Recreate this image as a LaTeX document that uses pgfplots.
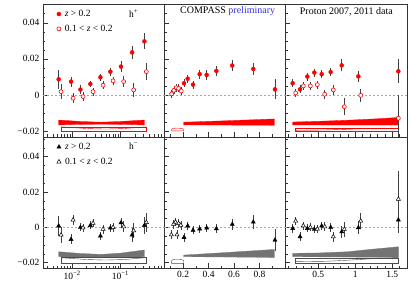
\documentclass[border=0pt]{standalone}
\usepackage{fontspec}
\setmainfont{Liberation Serif}
\setmathrm{Liberation Serif}
\usepackage{pgfplots}
\pgfplotsset{compat=1.18}
\definecolor{myred}{RGB}{255,0,0}
\definecolor{bandgray}{RGB}{115,115,115}
\definecolor{prelblue}{RGB}{50,50,240}
\newcommand{\tlfont}{\fontsize{9.5}{11}\selectfont}
\pgfplotsset{
 panel/.style={
  anchor=south west, scale only axis, scaled ticks=false,
  axis line style={black!80, line width=0.6pt},
  ytick={-0.02,0,0.02,0.04},
  minor ytick={-0.015,-0.01,-0.005,0.005,0.01,0.015,0.025,0.03,0.035,0.045,0.05},
  major tick length=5pt, minor tick length=2.5pt,
  tick style={black!80, line width=0.5pt},
  xtick pos=bottom, ytick pos=left, tick align=inside,
  ticklabel style={font=\tlfont},
 },
 toprow/.style={ymin=-0.0233, ymax=0.0504, height=133pt, xticklabels={}},
 botrow/.style={ymin=-0.0230, ymax=0.0511, height=131pt},
 xpanel/.style={xmin=0.0025, xmax=0.8, width=121pt, xtick={0.01,0.1},
   minor xtick={0.003,0.004,0.005,0.006,0.007,0.008,0.009,0.02,0.03,0.04,0.05,0.06,0.07,0.08,0.09,0.2,0.3,0.4,0.5,0.6,0.7,0.8}},
 zpanel/.style={xmin=0.05, xmax=1.0, width=121pt, xtick={0.2,0.4,0.6,0.8}, minor xtick={0.1,0.3,0.5,0.7,0.9}, yticklabels={}},
 ppanel/.style={xmin=0.05, xmax=1.7, width=122pt, xtick={0.5,1,1.5}, minor xtick={0.1,0.2,0.3,0.4,0.6,0.7,0.8,0.9,1.1,1.2,1.3,1.4,1.6,1.7}, yticklabels={}},
 eb/.style={error bars/y dir=both, error bars/y explicit, error bars/error mark=none, error bars/error bar style={black!75, line width=0.5pt}},
 fillc/.style={only marks, mark=*, mark size=2pt, color=myred, mark options={fill=myred, draw=myred}},
 openc/.style={only marks, mark=*, mark size=2pt, color=myred, mark options={fill=white, draw=myred, line width=0.6pt}},
 fillt/.style={only marks, mark=triangle*, mark size=2.4pt, color=black, mark options={fill=black, draw=black}},
 opent/.style={only marks, mark=triangle*, mark size=2.4pt, color=black, mark options={fill=white, draw=black, line width=0.5pt}},
 zeroline/.style={black!35, dash pattern=on 2pt off 2pt, line width=0.4pt, forget plot},
 leg/.style={legend style={draw=none, fill=none, at={(0.105,0.978)}, anchor=north west, font=\tlfont, row sep=3pt, inner sep=1pt, column sep=2pt},
   legend cell align=left},
}
\begin{document}
\begin{tikzpicture}
%================ TOP LEFT (x, h+)
\begin{axis}[panel, toprow, xmode=log, xpanel, at={(43pt,160pt)}, yticklabels={−0.02,0,0.02,0.04}, leg]
\addplot[zeroline] coordinates {(0.0025,0) (0.8,0)};
\addplot[fill=myred, draw=myred, line width=0.3pt, forget plot] coordinates {
(0.00528,-0.0139) (0.015,-0.0147) (0.04,-0.0151) (0.1,-0.0147) (0.315,-0.0139)
(0.315,-0.0166) (0.1,-0.0163) (0.04,-0.0162) (0.015,-0.0163) (0.00528,-0.0166)} -- cycle;
\addplot[draw=myred, line width=0.4pt, forget plot] coordinates {
(0.00591,-0.0199) (0.345,-0.0199) (0.345,-0.0176) (0.00591,-0.0176)} -- cycle;
\addplot[draw=myred, line width=0.4pt, forget plot] coordinates {
(0.00591,-0.0177) (0.02,-0.0186) (0.05,-0.0189) (0.12,-0.0186) (0.345,-0.0177)};
\addplot[fillc, eb] table[x index=0, y index=1, y error index=2] {
0.00528 0.0087 0.0054
0.00953 0.0074 0.0028
0.0149 0.0030 0.0023
0.0239 0.0061 0.0018
0.0386 0.0098 0.0020
0.0621 0.0129 0.0023
0.103 0.0157 0.0030
0.175 0.0236 0.0035
0.315 0.0297 0.0044
};
\addlegendentry{\textit{z} \textgreater{} 0.2}
\addplot[openc, eb] table[x index=0, y index=1, y error index=2] {
0.00591 0.0018 0.0040
0.0105 -0.0018 0.0028
0.0169 -0.0009 0.0024
0.0272 0.0018 0.0022
0.0438 0.0054 0.0022
0.0706 0.0078 0.0024
0.117 0.0074 0.0030
0.188 0.0028 0.0040
0.345 0.0129 0.0048
};
\addlegendentry{0.1 \textless{} \textit{z} \textless{} 0.2}
\node[font=\tlfont] at (rel axis cs:0.75,0.925) {h\textsuperscript{+}};
\node[rotate=90, anchor=east, font=\fontsize{10.5}{12}\selectfont] at (rel axis cs:-0.215,0.955) {$\mathrm{A}_{\mathrm{UL}}^{\sin\phi_{s}}$};
\end{axis}
%================ TOP MIDDLE (z, h+)
\begin{axis}[panel, toprow, zpanel, at={(164pt,160pt)}]
\addplot[zeroline] coordinates {(0.05,0) (1.0,0)};
\addplot[fill=myred, draw=myred, line width=0.3pt] coordinates {
(0.205,-0.0151) (0.5,-0.0144) (0.917,-0.0133) (0.917,-0.0168) (0.205,-0.0166)} -- cycle;
\addplot[draw=myred, line width=0.4pt] coordinates {
(0.11,-0.0199) (0.205,-0.0199) (0.205,-0.0189) (0.18,-0.0185) (0.14,-0.0184) (0.115,-0.0187) (0.11,-0.0192)} -- cycle;
\addplot[fillc, eb] table[x index=0, y index=1, y error index=2] {
0.207 0.0065 0.0022
0.236 0.0090 0.0022
0.278 0.0057 0.0022
0.330 0.0115 0.0024
0.385 0.0111 0.0026
0.461 0.0133 0.0026
0.586 0.0163 0.0030
0.751 0.0144 0.0035
0.921 0.0031 0.0055
};
\addplot[openc, eb] table[x index=0, y index=1, y error index=2] {
0.110 0.0006 0.0022
0.128 0.0026 0.0022
0.146 0.0040 0.0022
0.165 0.0036 0.0022
0.185 0.0022 0.0022
};
\node[font=\fontsize{10}{12}\selectfont] at (rel axis cs:0.526,0.945) {COMPASS {\color{prelblue}preliminary}};
\end{axis}
%================ TOP RIGHT (pT, h+)
\begin{axis}[panel, toprow, ppanel, at={(285pt,160pt)}]
\addplot[zeroline] coordinates {(0.05,0) (1.7,0)};
\addplot[fill=myred, draw=myred, line width=0.3pt] coordinates {
(0.154,-0.0150) (0.5,-0.0146) (0.9,-0.0140) (1.3,-0.0132) (1.583,-0.0125)
(1.583,-0.0167) (0.9,-0.0167) (0.154,-0.0166)} -- cycle;
\addplot[draw=myred, line width=0.4pt] coordinates {
(0.194,-0.0201) (1.583,-0.0201) (1.583,-0.0185) (0.194,-0.0185)} -- cycle;
\addplot[draw=myred, line width=0.4pt] coordinates {
(0.194,-0.0196) (0.6,-0.0194) (0.9,-0.0190) (1.24,-0.0185)};
\addplot[fillc, eb] table[x index=0, y index=1, y error index=2] {
0.154 0.0065 0.0022
0.253 0.0031 0.0022
0.352 0.0102 0.0022
0.447 0.0124 0.0022
0.546 0.0115 0.0022
0.668 0.0127 0.0024
0.817 0.0164 0.0033
1.042 0.0103 0.0031
1.583 0.0131 0.0066
};
\addplot[openc, eb] table[x index=0, y index=1, y error index=2] {
0.194 0.0011 0.0022
0.298 0.0050 0.0022
0.393 0.0050 0.0022
0.487 0.0057 0.0022
0.587 0.0004 0.0026
0.703 0.0028 0.0028
0.852 -0.0065 0.0046
1.074 -0.0002 0.0037
1.583 -0.0129 0.0129
};
\node[font=\fontsize{10}{12}\selectfont] at (rel axis cs:0.503,0.945) {Proton 2007, 2011 data};
\end{axis}
%================ BOTTOM LEFT (x, h-)
\begin{axis}[panel, botrow, xmode=log, xpanel, at={(43pt,29pt)}, yticklabels={−0.02,0,0.02,0.04}, xticklabels={10\textsuperscript{−2},10\textsuperscript{−1}}, leg]
\addplot[zeroline] coordinates {(0.0025,0) (0.8,0)};
\addplot[fill=bandgray, draw=bandgray, line width=0.3pt, forget plot] coordinates {
(0.00528,-0.0138) (0.015,-0.0148) (0.04,-0.0153) (0.1,-0.0146) (0.315,-0.0128)
(0.315,-0.0166) (0.1,-0.0170) (0.04,-0.0172) (0.015,-0.0170) (0.00528,-0.0166)} -- cycle;
\addplot[draw=black!70, line width=0.4pt, forget plot] coordinates {
(0.00591,-0.0204) (0.345,-0.0204) (0.345,-0.0170) (0.00591,-0.0170)} -- cycle;
\addplot[draw=black!70, line width=0.4pt, forget plot] coordinates {
(0.00591,-0.0172) (0.02,-0.0182) (0.05,-0.0185) (0.12,-0.0182) (0.345,-0.0171)};
\addplot[fillt, eb] table[x index=0, y index=1, y error index=2] {
0.00528 0.0008 0.0057
0.00953 -0.0068 0.0028
0.0149 0.0000 0.0023
0.0239 0.0011 0.0023
0.0386 -0.0049 0.0025
0.0621 -0.0004 0.0025
0.103 0.0026 0.0028
0.175 -0.0043 0.0038
0.315 0.0011 0.0047
};
\addlegendentry{\textit{z} \textgreater{} 0.2}
\addplot[opent, eb] table[x index=0, y index=1, y error index=2] {
0.00591 -0.0043 0.0045
0.0105 0.0042 0.0028
0.0169 -0.0002 0.0023
0.0272 0.0023 0.0023
0.0438 -0.0011 0.0025
0.0706 0.0000 0.0025
0.117 0.0004 0.0030
0.188 -0.0019 0.0042
0.345 0.0028 0.0053
};
\addlegendentry{0.1 \textless{} \textit{z} \textless{} 0.2}
\node[font=\tlfont] at (rel axis cs:0.75,0.931) {h\textsuperscript{−}};
\node[rotate=90, anchor=east, font=\fontsize{10.5}{12}\selectfont] at (rel axis cs:-0.215,0.954) {$\mathrm{A}_{\mathrm{UL}}^{\sin\phi_{s}}$};
\node[font=\fontsize{11}{12}\selectfont] at (rel axis cs:0.909,-0.125) {\textit{x}};
\end{axis}
%================ BOTTOM MIDDLE (z, h-)
\begin{axis}[panel, botrow, zpanel, at={(164pt,29pt)}, xticklabels={0.2,0.4,0.6,0.8}]
\addplot[zeroline] coordinates {(0.05,0) (1.0,0)};
\addplot[fill=bandgray, draw=bandgray, line width=0.3pt] coordinates {
(0.205,-0.0157) (0.5,-0.0144) (0.917,-0.0125) (0.917,-0.0170) (0.205,-0.0166)} -- cycle;
\addplot[draw=black!70, line width=0.4pt] coordinates {
(0.11,-0.0204) (0.205,-0.0204) (0.205,-0.0187) (0.18,-0.0181) (0.14,-0.0180) (0.115,-0.0184) (0.11,-0.0189)} -- cycle;
\addplot[fillt, eb] table[x index=0, y index=1, y error index=2] {
0.207 -0.0057 0.0025
0.236 0.0008 0.0025
0.278 -0.0017 0.0023
0.330 -0.0009 0.0023
0.385 -0.0004 0.0025
0.461 -0.0008 0.0026
0.586 0.0017 0.0030
0.751 0.0030 0.0038
0.921 -0.0072 0.0064
};
\addplot[opent, eb] table[x index=0, y index=1, y error index=2] {
0.108 -0.0042 0.0025
0.125 0.0018 0.0025
0.140 0.0030 0.0025
0.152 -0.0042 0.0025
0.165 0.0022 0.0025
0.182 0.0012 0.0025
};
\node[font=\fontsize{11}{12}\selectfont] at (rel axis cs:0.934,-0.125) {\textit{z}};
\end{axis}
%================ BOTTOM RIGHT (pT, h-)
\begin{axis}[panel, botrow, ppanel, at={(285pt,29pt)}, xticklabels={0.5,1,1.5}]
\addplot[zeroline] coordinates {(0.05,0) (1.7,0)};
\addplot[fill=bandgray, draw=bandgray, line width=0.3pt] coordinates {
(0.154,-0.0147) (0.5,-0.0145) (0.9,-0.0138) (1.2,-0.0125) (1.583,-0.0110)
(1.583,-0.0170) (0.9,-0.0168) (0.154,-0.0166)} -- cycle;
\addplot[draw=black!70, line width=0.4pt] coordinates {
(0.194,-0.0204) (1.583,-0.0204) (1.583,-0.0172) (0.194,-0.0172)} -- cycle;
\addplot[draw=black!70, line width=0.4pt] coordinates {
(0.194,-0.0194) (0.6,-0.0192) (0.9,-0.0186) (1.2,-0.0178) (1.583,-0.0172)};
\addplot[fillt, eb] table[x index=0, y index=1, y error index=2] {
0.154 -0.0006 0.0025
0.253 -0.0053 0.0025
0.352 -0.0006 0.0023
0.447 -0.0011 0.0023
0.546 0.0008 0.0025
0.668 0.0000 0.0026
0.817 -0.0025 0.0034
1.042 -0.0002 0.0038
1.583 0.0042 0.0075
};
\addplot[opent, eb] table[x index=0, y index=1, y error index=2] {
0.194 0.0036 0.0023
0.298 0.0009 0.0023
0.393 0.0000 0.0023
0.487 -0.0009 0.0023
0.587 0.0004 0.0026
0.703 -0.0053 0.0028
0.852 -0.0011 0.0042
1.074 0.0036 0.0047
1.583 0.0160 0.0156
};
\node[font=\fontsize{9.5}{11}\selectfont] at (rel axis cs:0.84,-0.13) {\textit{p}\textsubscript{\textit{T}} (GeV/\textit{c})};
\end{axis}
\pgfresetboundingbox
\useasboundingbox (0pt,0pt) rectangle (411pt,297pt);
\end{tikzpicture}
\end{document}
